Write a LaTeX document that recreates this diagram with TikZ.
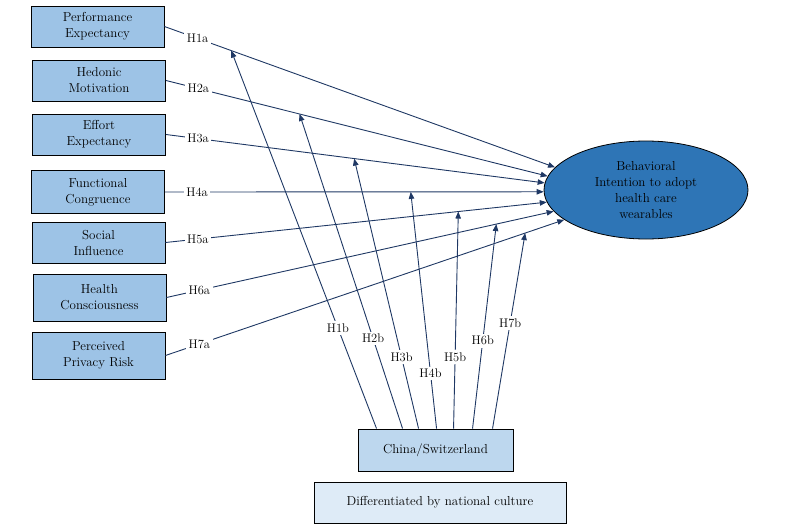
\documentclass[tikz,border=0pt]{standalone}
\usetikzlibrary{arrows.meta,shapes.geometric,calc}
\definecolor{boxblue}{RGB}{157,195,230}
\definecolor{ellblue}{RGB}{46,117,182}
\definecolor{cbox}{RGB}{189,215,238}
\definecolor{dbox}{RGB}{222,235,247}
\definecolor{navy}{RGB}{31,56,100}
\newcommand{\dfont}{\fontsize{13}{16}\selectfont}
\newcommand{\lfont}{\fontsize{12.5}{15}\selectfont}
\begin{document}
\begin{tikzpicture}[x=1pt,y=-1pt,
  pbox/.style={draw=black, line width=0.9pt, fill=boxblue, minimum width=133pt,
    minimum height=41pt, align=center, inner sep=1pt, font=\dfont},
  aline/.style={draw=navy, line width=0.9pt, -{Triangle[length=7pt,width=5.5pt]}},
  hlab/.style={fill=white, inner sep=2.5pt, text=black, font=\lfont}]
\useasboundingbox (0,0) rectangle (796,530);

\node[pbox] (p1) at (97.5,26.5) {Performance\\Expectancy};
\node[pbox] (p2) at (99,80.5) {Hedonic\\Motivation};
\node[pbox] (p3) at (99,134.5) {Effort\\Expectancy};
\node[pbox, minimum height=43pt] (p4) at (98,192) {Functional\\Congruence};
\node[pbox] (p5) at (98.5,242.5) {Social\\Influence};
\node[pbox, minimum height=47pt] (p6) at (99.5,297.5) {Health\\Consciousness};
\node[pbox, minimum height=47pt] (p7) at (98.5,355.5) {Perceived\\Privacy Risk};

\node[ellipse, draw=black, line width=0.8pt, fill=ellblue, minimum width=204pt,
  minimum height=98pt, align=center, inner sep=0pt, font=\dfont] (bi) at (646,190)
  {Behavioral\\Intention to adopt\\health care\\wearables};

\node[draw=black, line width=0.9pt, fill=cbox, minimum width=155pt, minimum height=42pt,
  font=\dfont] (cs) at (435.5,450) {China/Switzerland};
\node[draw=black, line width=0.9pt, fill=dbox, minimum width=252pt, minimum height=41pt,
  font=\dfont] (dc) at (440,502.5) {Differentiated by national culture};

% a-paths
\foreach \i/\ang in {1/166.5,2/172.8,3/176.7,4/181.2,5/187.7,6/193.5,7/200.9}
  \draw[aline] (p\i.east) -- node[hlab,pos=0.085]{H\i a} (bi.\ang);

% b-paths
\foreach \i/\ang/\fr/\xs/\lp in {1/166.5/0.171/19/0.266, 2/172.8/0.35/45/0.286,
    3/176.7/0.497/61/0.264, 4/181.2/0.649/79/0.233, 5/187.7/0.768/96/0.33,
    6/193.5/0.852/115/0.43, 7/200.9/0.902/135/0.54}
  \draw[aline] ([xshift=\xs pt]cs.north west) -- node[hlab,pos=\lp]{H\i b}
    ($(p\i.east)!\fr!(bi.\ang)$);
\end{tikzpicture}
\end{document}
